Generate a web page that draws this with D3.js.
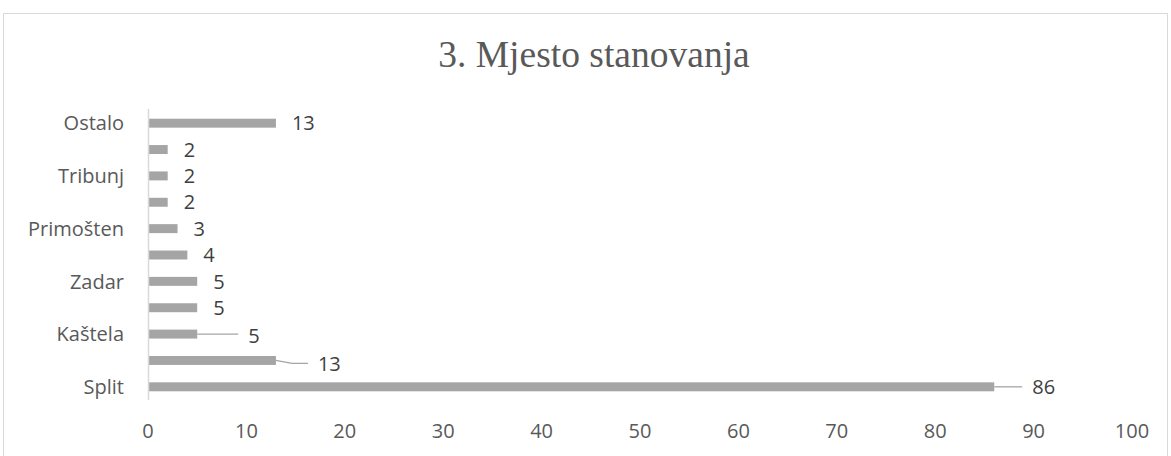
<!DOCTYPE html>
<html><head><meta charset="utf-8">
<script src="https://cdn.jsdelivr.net/npm/d3@7"></script>
<style>body{margin:0;background:#fff;}svg{display:block;}</style>
</head><body>
<svg id="c" width="1171" height="456"></svg>
<script>
// Data (bottom to top as drawn)
const categories = ["Split", "", "Kaštela", "", "Zadar", "", "Primošten", "", "Tribunj", "", "Ostalo"];
const values = [86, 13, 5, 5, 5, 4, 3, 2, 2, 2, 13];
const xTicks = [0, 10, 20, 30, 40, 50, 60, 70, 80, 90, 100];
const title = "3. Mjesto stanovanja";

const svg = d3.select("#c");
const fontSans = "'Open Sans', Lato, sans-serif";
const fs = 20;

svg.append("rect").attr("x", 3.5).attr("y", 13.5).attr("width", 1164).attr("height", 470)
  .attr("fill", "#fff").attr("stroke", "#d9d9d9").attr("stroke-width", 1);

svg.append("text").attr("x", 594).attr("y", 67).attr("text-anchor", "middle")
  .attr("font-family", "'Liberation Serif', 'Times New Roman', serif").attr("font-size", 37.5)
  .attr("fill", "#595959").text(title);

const x = d3.scaleLinear().domain([0, 100]).range([148, 1132]);
const idx = d3.range(categories.length);
const y = d3.scaleBand().domain(idx).range([400, 110]).paddingInner(0.66).paddingOuter(0.33);

// x tick labels
svg.append("g").selectAll("text").data(xTicks).join("text")
  .attr("x", d => x(d)).attr("y", 431).attr("dy", "0.36em").attr("text-anchor", "middle")
  .attr("font-family", fontSans).attr("font-size", fs).attr("fill", "#595959")
  .text(d => d);

// bars
svg.append("g").selectAll("rect").data(idx).join("rect")
  .attr("x", x(0)).attr("y", i => y(i)).attr("height", y.bandwidth())
  .attr("width", i => x(values[i]) - x(0)).attr("fill", "#a5a5a5");

// axis line
svg.append("line").attr("x1", 148.5).attr("x2", 148.5).attr("y1", 109).attr("y2", 400)
  .attr("stroke", "#d9d9d9").attr("stroke-width", 1.5);

// category labels
svg.append("g").selectAll("text").data(idx).join("text")
  .attr("x", 124).attr("y", i => y(i) + y.bandwidth() / 2).attr("dy", "0.36em")
  .attr("text-anchor", "end").attr("font-family", fontSans).attr("font-size", fs)
  .attr("fill", "#595959").text(i => categories[i]);

// value labels (some moved with leader lines)
const labelShift = {0: {dx: 38, dy: 0}, 1: {dx: 42, dy: 3}, 2: {dx: 51, dy: 2}};
svg.append("g").selectAll("path").data(idx.filter(i => labelShift[i])).join("path")
  .attr("d", i => {
    const x0 = x(values[i]), yc = y(i) + y.bandwidth() / 2, s = labelShift[i];
    const x1 = x0 + s.dx - 10;
    if (i === 1) return `M${x0},${yc} L${x0 + 16},${yc + s.dy} L${x1},${yc + s.dy}`;
    return `M${x0},${yc} L${x1},${yc}`;
  })
  .attr("fill", "none").attr("stroke", "#a5a5a5").attr("stroke-width", 1.3);

svg.append("g").selectAll("text").data(idx).join("text")
  .attr("x", i => x(values[i]) + (labelShift[i] ? labelShift[i].dx : 16))
  .attr("y", i => y(i) + y.bandwidth() / 2 + (labelShift[i] ? labelShift[i].dy : 0))
  .attr("dy", "0.36em").attr("font-family", fontSans).attr("font-size", fs)
  .attr("fill", "#404040").text(i => values[i]);
</script>
</body></html>
